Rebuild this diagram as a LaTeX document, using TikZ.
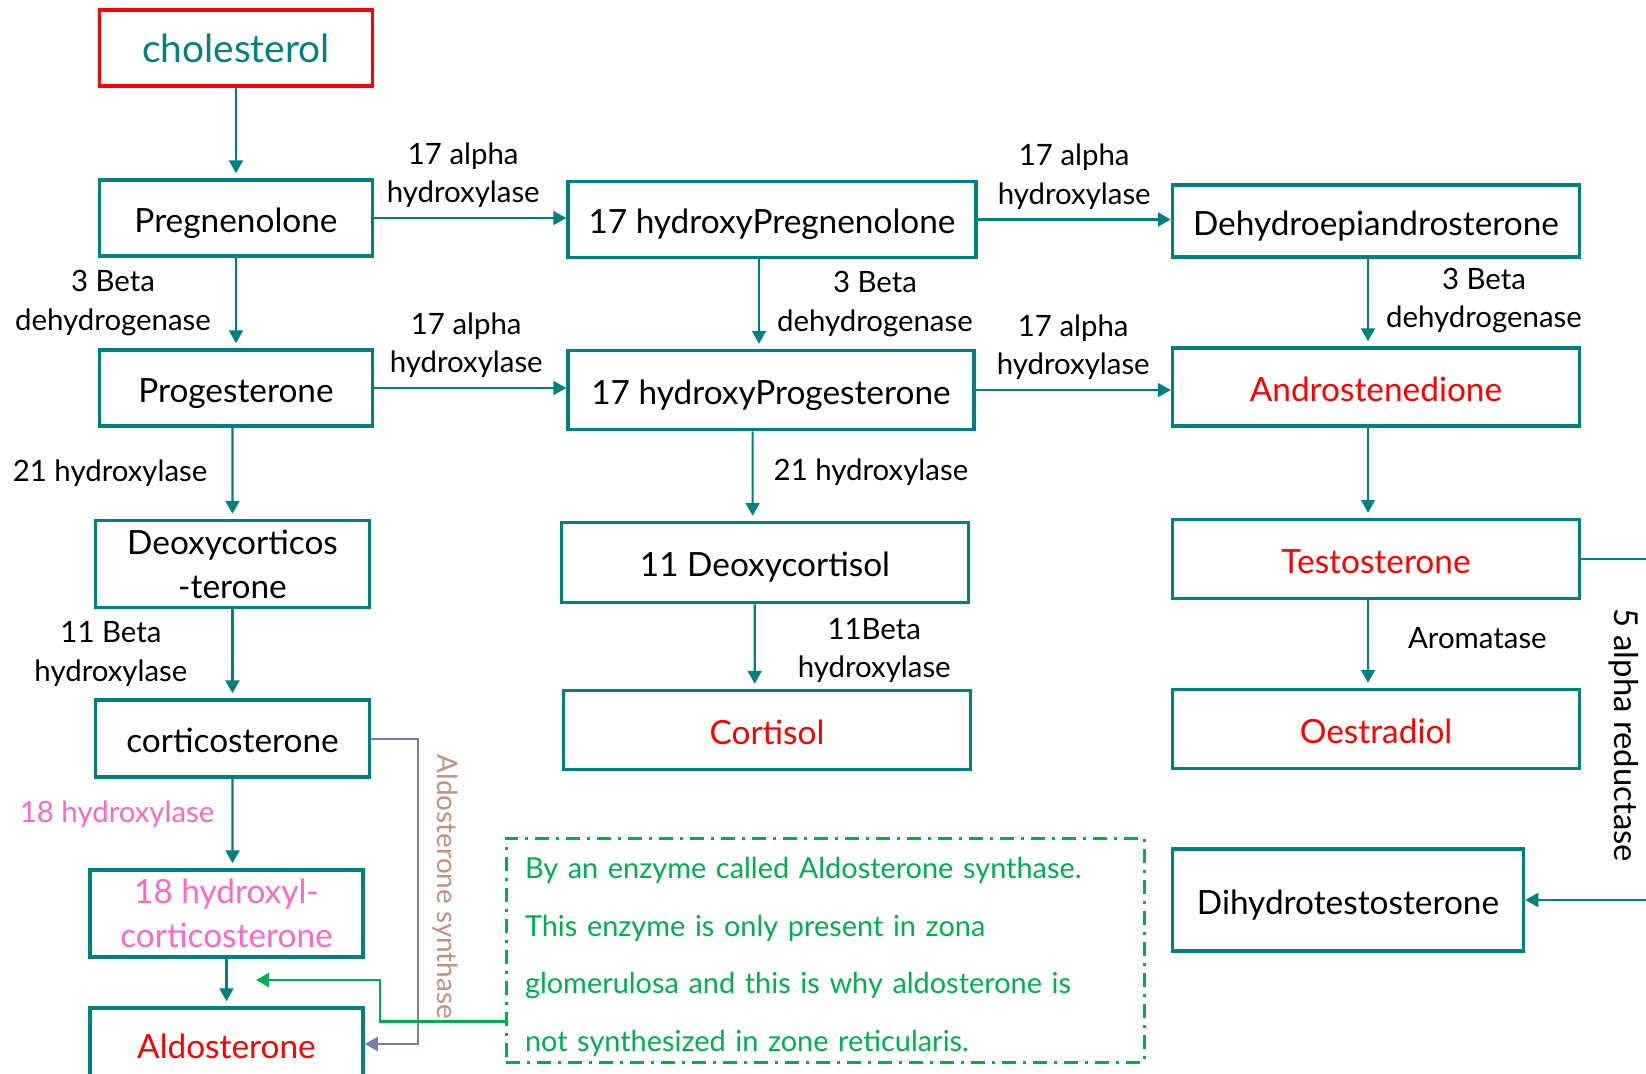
\documentclass[tikz,border=0pt]{standalone}
\usepackage{fontspec}
\setmainfont{Lato}
\usetikzlibrary{arrows,arrows.meta,positioning}

\definecolor{pathteal}{RGB}{0,128,128}
\definecolor{molred}{RGB}{255,0,0}
\definecolor{hydpink}{RGB}{255,102,204}
\definecolor{notegreen}{RGB}{0,176,80}
\definecolor{synthblue}{RGB}{120,128,170}
\definecolor{synthtan}{RGB}{192,144,128}

\begin{document}
\begin{tikzpicture}
  [x=1bp,y=-1bp,
   plain/.style={rectangle,draw=pathteal,line width=3.5bp,minimum width=407bp,minimum height=78bp,
               inner sep=2bp,align=center,font=\fontsize{33.5}{44}\selectfont},
   box/.style={plain,text height=30bp,text depth=2bp},
   lbl/.style={align=center,inner sep=4bp,font=\fontsize{29.5}{39}\selectfont},
   flow/.style={draw=pathteal,line width=2.2bp,-{Triangle[length=13bp,width=14bp]}},
   drop/.style={flow,shorten >=5bp}]

  \useasboundingbox (0,0) rectangle (1646,1073);

  % first column
  \node[box,draw=molred,text=pathteal,minimum width=273bp,minimum height=76bp,
        text height=31bp,text depth=3bp,font=\fontsize{39}{44}\selectfont] (chol) at (236,48) {cholesterol};
  \node[box,minimum width=273bp,minimum height=76bp] (preg) at (236,218) {Pregnenolone};
  \node[box,minimum width=273bp,minimum height=76bp] (prog) at (236,388) {Progesterone};
  \node[plain,minimum width=274bp,minimum height=87bp] (deoxy) at (232.5,564) {Deoxycorticos\\-terone};
  \node[box,minimum width=274bp,minimum height=77bp] (cortico) at (232.5,738.5) {corticosterone};
  \node[plain,text=hydpink,minimum width=273bp,minimum height=87bp] (hydcort) at (226.5,913.5) {18 hydroxyl-\\corticosterone};
  \node[box,text=molred,minimum width=273bp,minimum height=72bp] (aldo) at (226.5,1044) {Aldosterone};

  % second column
  \node[box,minimum width=408bp,minimum height=76bp] (ohpreg) at (772,219.5) {17 hydroxyPregnenolone};
  \node[box,minimum width=406bp,minimum height=79bp] (ohprog) at (771,390) {17 hydroxyProgesterone};
  \node[box,minimum height=80bp] (dcortisol) at (765,562.5) {11 Deoxycortisol};
  \node[box,text=molred,minimum height=79bp] (cortisol) at (767,730) {Cortisol};

  % third column
  \node[box,minimum height=72bp] (dhea) at (1376,221) {Dehydroepiandrosterone};
  \node[box,text=molred] (andro) at (1376,387) {Androstenedione};
  \node[box,text=molred,minimum height=79bp] (testo) at (1376,559) {Testosterone};
  \node[box,text=molred,minimum height=79bp] (oestr) at (1376,729) {Oestradiol};
  \node[box,minimum width=351bp,minimum height=102bp] (dht) at (1348,900) {Dihydrotestosterone};

  % note on the synthase
  \node[draw=notegreen,line width=3bp,dash pattern=on 14bp off 7bp on 3bp off 7bp,
        minimum width=638bp,minimum height=224bp,text width=600bp,align=left,inner sep=0pt,
        text=notegreen,font=\fontsize{29}{57.7}\selectfont] (note) at (825,950)
    {\rule{0pt}{35bp}By an enzyme called Aldosterone synthase.\\This enzyme is only present in zona\\glomerulosa and this is why aldosterone is\\not synthesized in zone reticularis.};

  % reactions and enzymes
  \path (chol) edge[drop] (preg)
        (preg) edge[drop] node[lbl,left=20bp] (b3a) {3 Beta\\dehydrogenase} (prog)
        ([xshift=-3.5bp]prog.south) edge[drop] node[lbl,left=20bp] (h21a) {21 hydroxylase} (deoxy.north)
        (deoxy) edge[drop] node[lbl,left=40bp] (b11a) {11 Beta\\hydroxylase} (cortico)
        (cortico.south) edge[drop] node[lbl,left=13bp,yshift=9bp,text=hydpink] (h18) {18 hydroxylase} ([xshift=6bp]hydcort.north)
        (hydcort) edge[drop] (aldo);

  \path (preg.east) edge[flow] node[lbl,above=5bp,xshift=-7bp] (a17a) {17 alpha\\hydroxylase} (preg.east -| ohpreg.west)
        (prog.east) edge[flow] node[lbl,above=5bp,xshift=-4bp] (a17b) {17 alpha\\hydroxylase} (prog.east -| ohprog.west)
        (ohpreg.east) edge[flow] node[lbl,above=5bp] (a17c) {17 alpha\\hydroxylase} (ohpreg.east -| dhea.west)
        (ohprog.east) edge[flow] node[lbl,above=5bp] (a17d) {17 alpha\\hydroxylase} (ohprog.east -| andro.west);

  \path ([xshift=-13bp]ohpreg.south) edge[drop] node[lbl,right=13bp] (b3b) {3 Beta\\dehydrogenase} ([xshift=-12bp]ohprog.north)
        ([xshift=-18.4bp]ohprog.south) edge[drop] node[lbl,right=16bp,yshift=4bp] (h21b) {21 hydroxylase} ([xshift=-12.4bp]dcortisol.north)
        ([xshift=-10.3bp]dcortisol.south) edge[drop] node[lbl,right=38bp,yshift=-4bp] (b11b) {11Beta\\hydroxylase} ([xshift=-12.3bp]cortisol.north);

  \path ([xshift=-8bp]dhea.south) edge[drop] node[lbl,right=13bp,yshift=2bp] (b3c) {3 Beta\\dehydrogenase} ([xshift=-8bp]andro.north)
        ([xshift=-8bp]andro.south) edge[drop] ([xshift=-8bp]testo.north)
        ([xshift=-8bp]testo.south) edge[drop] node[lbl,right=35bp,yshift=6bp] (arom) {Aromatase} ([xshift=-8bp]oestr.north);

  % side routes
  \draw[flow] (testo.east) -- ++(110,0) |- (dht.east);
  \node[lbl,rotate=-90,font=\fontsize{33}{40}\selectfont] (red5) at (1624,735) {5 alpha reductase};

  \draw[draw=synthblue,line width=2bp,-{Triangle[length=13bp,width=14bp]}] (cortico.east) -- ++(47,0) |- (aldo.east);
  \node[rotate=-90,text=synthtan,font=\fontsize{28}{34}\selectfont] (synlbl) at (445,887) {Aldosterone synthase};

  \coordinate (gtip) at (256,980);
  \draw[draw=notegreen,line width=2.2bp,-{Triangle[length=13bp,width=14bp]}]
    ([yshift=42bp]note.south west) -| ([xshift=124bp]gtip) -- (gtip);

\end{tikzpicture}
\end{document}
